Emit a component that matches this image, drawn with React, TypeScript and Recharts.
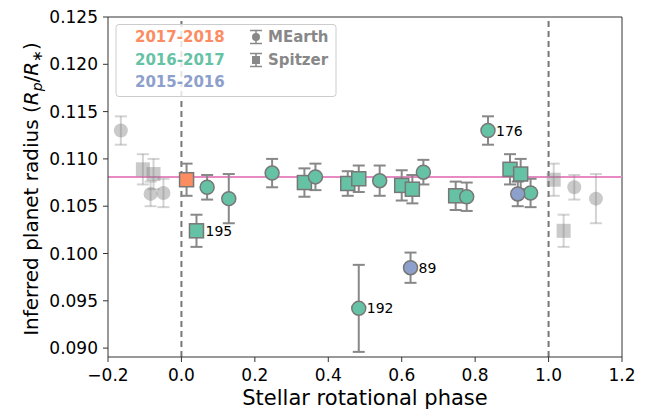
import { ScatterChart, Scatter, XAxis, YAxis, ReferenceLine, ErrorBar, Label } from 'recharts'

// Spitzer 2017-2018
const phaseS1718 = [0.014]
const radiusS1718 = [0.1078]
const errS1718 = [0.0017]

// MEarth 2016-2017
const phaseM1617 = [0.07, 0.129, 0.247, 0.365, 0.483, 0.54, 0.659, 0.777, 0.835, 0.951]
const radiusM1617 = [0.107, 0.1058, 0.1085, 0.1081, 0.0942, 0.1077, 0.1086, 0.106, 0.113, 0.1064]
const errM1617 = [0.0013, 0.0026, 0.0015, 0.0014, 0.0046, 0.0016, 0.0013, 0.0015, 0.0015, 0.0015]
const labelM1617 = ['', '', '', '', '192', '', '', '', '176', '']

// Spitzer 2016-2017
const phaseS1617 = [0.041, 0.335, 0.453, 0.483, 0.6, 0.629, 0.747, 0.895, 0.924]
const radiusS1617 = [0.1024, 0.1075, 0.1074, 0.1079, 0.1072, 0.1068, 0.1061, 0.1089, 0.1084]
const errS1617 = [0.0017, 0.0015, 0.0013, 0.0014, 0.0016, 0.0015, 0.0015, 0.0016, 0.0016]
const labelS1617 = ['195', '', '', '', '', '', '', '', '']

// MEarth 2015-2016
const phaseM1516 = [0.624, 0.916]
const radiusM1516 = [0.0985, 0.1063]
const errM1516 = [0.0016, 0.0013]
const labelM1516 = ['89', '']

const meanRadius = 0.1081
const xTicks = [-0.2, 0, 0.2, 0.4, 0.6, 0.8, 1.0, 1.2]
const yTicks = [0.09, 0.095, 0.1, 0.105, 0.11, 0.115, 0.12, 0.125]
const xDomain = [-0.2, 1.2]
const yDomain = [0.08906, 0.125]

const ORANGE = '#fc8d62'
const GREEN = '#66c2a5'
const BLUE = '#8da0cb'
const PINK = '#e78ac3'
const FONT = 'DejaVu Sans, sans-serif'

type Pt = { x: number; y: number; err: number; label: string }

const toPoints = (px: number[], ry: number[], er: number[], lb?: string[]): Pt[] =>
  px.map((x, i) => ({ x, y: ry[i], err: er[i], label: lb ? lb[i] : '' }))

const s1718 = toPoints(phaseS1718, radiusS1718, errS1718)
const m1617 = toPoints(phaseM1617, radiusM1617, errM1617, labelM1617)
const s1617 = toPoints(phaseS1617, radiusS1617, errS1617, labelS1617)
const m1516 = toPoints(phaseM1516, radiusM1516, errM1516, labelM1516)

// phase-wrapped copies shown in grey outside [0, 1]
const wrap = (pts: Pt[]): Pt[] => [
  ...pts.filter((p) => p.x > 0.8).map((p) => ({ ...p, x: p.x - 1, label: '' })),
  ...pts.filter((p) => p.x < 0.2).map((p) => ({ ...p, x: p.x + 1, label: '' })),
]
const greyCircles = wrap([...m1617, ...m1516])
const greySquares = wrap([...s1718, ...s1617])

const circleShape = (fill: string, stroke?: string, opacity = 1) => (props: any) => {
  const { cx, cy, payload } = props
  return (
    <g>
      <circle cx={cx} cy={cy} r={7} fill={fill} fillOpacity={opacity} stroke={stroke || 'none'} strokeWidth={1.5} />
      {payload && payload.label ? (
        <text x={cx + 8} y={cy + 5} fontSize={14} fontFamily={FONT} fill="#000">
          {payload.label}
        </text>
      ) : null}
    </g>
  )
}

const squareShape = (fill: string, stroke?: string, opacity = 1) => (props: any) => {
  const { cx, cy, payload } = props
  return (
    <g>
      <rect x={cx - 7} y={cy - 7} width={14} height={14} fill={fill} fillOpacity={opacity} stroke={stroke || 'none'} strokeWidth={1.5} />
      {payload && payload.label ? (
        <text x={cx + 9} y={cy + 5} fontSize={14} fontFamily={FONT} fill="#000">
          {payload.label}
        </text>
      ) : null}
    </g>
  )
}

const fmtX = (v: number) => (v < 0 ? '\u2212' + Math.abs(v).toFixed(1) : v.toFixed(1))
const fmtY = (v: number) => v.toFixed(3)

function LegendBox() {
  return (
    <svg width={651} height={411} style={{ position: 'absolute', left: 0, top: 0, pointerEvents: 'none' }}>
      <rect x={116} y={24.5} width={220} height={72} rx={3} fill="#fff" fillOpacity={0.8} stroke="#ccc" />
      <g fontFamily={FONT} fontWeight="bold" fontSize={15}>
        <text x={135} y={42} fill={ORANGE}>2017-2018</text>
        <text x={135} y={65} fill={GREEN}>2016-2017</text>
        <text x={135} y={87} fill={BLUE}>2015-2016</text>
        <text x={268} y={42} fill="#888">MEarth</text>
        <text x={268} y={65} fill="#888">Spitzer</text>
      </g>
      <g stroke="#888" strokeWidth={1.5}>
        <line x1={256} y1={30.5} x2={256} y2={43.5} />
        <line x1={250} y1={30.5} x2={262} y2={30.5} />
        <line x1={250} y1={43.5} x2={262} y2={43.5} />
        <line x1={256} y1={53.5} x2={256} y2={66.5} />
        <line x1={250} y1={53.5} x2={262} y2={53.5} />
        <line x1={250} y1={66.5} x2={262} y2={66.5} />
      </g>
      <circle cx={256} cy={37} r={4} fill="#888" />
      <rect x={252} y={56} width={8} height={8} fill="#888" />
    </svg>
  )
}

export default function App() {
  return (
    <div style={{ position: 'absolute', left: 0, top: 0, width: 651, height: 411 }}>
      <ScatterChart width={651} height={411} margin={{ top: 17, right: 29, bottom: 24, left: 48 }}>
        <XAxis
          type="number"
          dataKey="x"
          domain={xDomain}
          ticks={xTicks}
          tickFormatter={fmtX}
          allowDataOverflow
          height={30}
          stroke="#333"
          tickSize={5}
          tickMargin={7}
          tick={{ fill: '#000', fontSize: 17, fontFamily: FONT }}
        >
          <Label
            content={() => (
              <text x={365} y={405} textAnchor="middle" fontSize={21} fontFamily={FONT} fill="#000">
                Stellar rotational phase
              </text>
            )}
          />
        </XAxis>
        <YAxis
          type="number"
          dataKey="y"
          domain={yDomain}
          ticks={yTicks}
          tickFormatter={fmtY}
          allowDataOverflow
          width={60}
          stroke="#333"
          tickSize={5}
          tickMargin={5}
          tick={{ fill: '#000', fontSize: 17, fontFamily: FONT }}
        >
          <Label
            content={() => (
              <text transform="translate(38,189) rotate(-90)" textAnchor="middle" fontSize={20} fontFamily={FONT} fill="#000">
                Inferred planet radius (
                <tspan fontStyle="italic">R</tspan>
                <tspan fontSize={14} dy={4} fontStyle="italic">p</tspan>
                <tspan dy={-4}>/</tspan>
                <tspan fontStyle="italic">R</tspan>
                <tspan fontSize={14} dy={4}>∗</tspan>
                <tspan dy={-4}>)</tspan>
              </text>
            )}
          />
        </YAxis>
        <ReferenceLine x={1.2} stroke="#333" />
        <ReferenceLine y={0.125} stroke="#333" />
        <ReferenceLine x={0} stroke="#777" strokeWidth={2} strokeDasharray="6 4" />
        <ReferenceLine x={1} stroke="#777" strokeWidth={2} strokeDasharray="6 4" />
        <ReferenceLine y={meanRadius} stroke={PINK} strokeWidth={2} />
        <Scatter data={greyCircles} shape={circleShape('#808080', undefined, 0.42)} isAnimationActive={false}>
          <ErrorBar dataKey="err" direction="y" width={6} stroke="#808080" strokeOpacity={0.35} strokeWidth={2} />
        </Scatter>
        <Scatter data={greySquares} shape={squareShape('#808080', undefined, 0.42)} isAnimationActive={false}>
          <ErrorBar dataKey="err" direction="y" width={6} stroke="#808080" strokeOpacity={0.35} strokeWidth={2} />
        </Scatter>
        <Scatter data={s1718} shape={squareShape(ORANGE, '#777')} isAnimationActive={false}>
          <ErrorBar dataKey="err" direction="y" width={6} stroke="#888" strokeWidth={2} />
        </Scatter>
        <Scatter data={s1617} shape={squareShape(GREEN, '#777')} isAnimationActive={false}>
          <ErrorBar dataKey="err" direction="y" width={6} stroke="#888" strokeWidth={2} />
        </Scatter>
        <Scatter data={m1617} shape={circleShape(GREEN, '#777')} isAnimationActive={false}>
          <ErrorBar dataKey="err" direction="y" width={6} stroke="#888" strokeWidth={2} />
        </Scatter>
        <Scatter data={m1516} shape={circleShape(BLUE, '#777')} isAnimationActive={false}>
          <ErrorBar dataKey="err" direction="y" width={6} stroke="#888" strokeWidth={2} />
        </Scatter>
      </ScatterChart>
      <LegendBox />
    </div>
  )
}
